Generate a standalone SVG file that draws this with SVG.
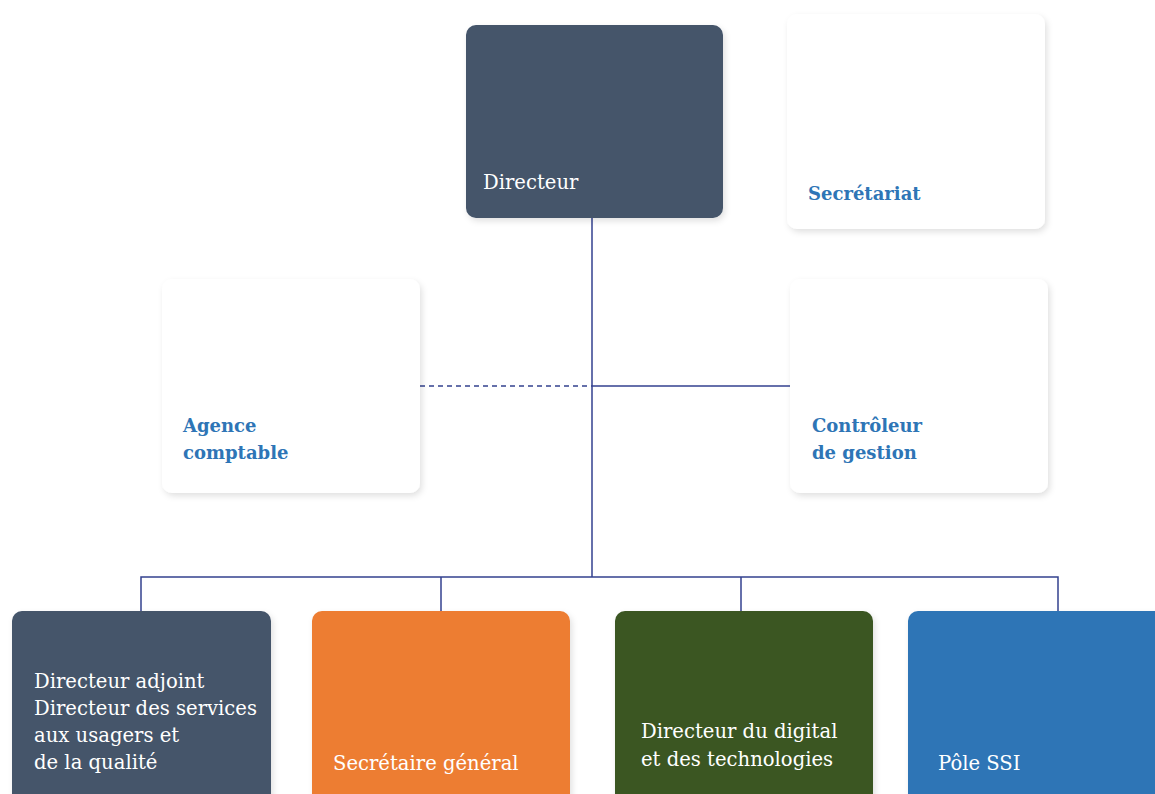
<svg xmlns="http://www.w3.org/2000/svg" width="1155" height="794" viewBox="0 0 1155 794">
<defs>
<filter id="sh" x="-10%" y="-10%" width="125%" height="125%">
<feDropShadow dx="2" dy="3" stdDeviation="3" flood-color="#000" flood-opacity="0.12"/>
</filter>
</defs>
<style>
text{font-family:"DejaVu Serif","Liberation Serif",serif;font-size:19.6px;}
.w{fill:#ffffff;}
.b{fill:#2E75B6;font-weight:bold;font-size:18px;}
.ln{stroke:#33418F;stroke-width:1.5;fill:none;}
.dash{stroke-dasharray:5 4;}
</style>
<rect width="1155" height="794" fill="#ffffff"/>
<g id="connectors">
<line class="ln" x1="592" y1="218" x2="592" y2="577"/>
<line class="ln" x1="592" y1="386" x2="790" y2="386"/>
<line class="ln dash" x1="420" y1="386" x2="592" y2="386"/>
<polyline class="ln" points="141,611 141,577 1058,577 1058,611"/>
<line class="ln" x1="441" y1="577" x2="441" y2="611"/>
<line class="ln" x1="741" y1="577" x2="741" y2="611"/>
</g>
<g id="directeur">
<rect x="466" y="25" width="257" height="193" rx="10" fill="#44546A" filter="url(#sh)"/>
<text class="w" x="483" y="189">Directeur</text>
</g>
<g id="secretariat">
<rect x="787" y="14" width="258" height="215" rx="10" fill="#ffffff" filter="url(#sh)"/>
<text class="b" x="808" y="200">Secrétariat</text>
</g>
<g id="agence">
<rect x="162" y="279" width="258" height="214" rx="10" fill="#ffffff" filter="url(#sh)"/>
<text class="b" x="183" y="432">Agence</text>
<text class="b" x="183" y="459">comptable</text>
</g>
<g id="controleur">
<rect x="790" y="279" width="258" height="214" rx="10" fill="#ffffff" filter="url(#sh)"/>
<text class="b" x="812" y="432">Contrôleur</text>
<text class="b" x="812" y="459">de gestion</text>
</g>
<g id="adjoint">
<rect x="12" y="611" width="259" height="200" rx="10" fill="#44546A" filter="url(#sh)"/>
<text class="w" x="34" y="688">Directeur adjoint</text>
<text class="w" x="34" y="715">Directeur des services</text>
<text class="w" x="34" y="742">aux usagers et</text>
<text class="w" x="34" y="769">de la qualité</text>
</g>
<g id="secretaire">
<rect x="312" y="611" width="258" height="200" rx="10" fill="#ED7D31" filter="url(#sh)"/>
<text class="w" x="333" y="770">Secrétaire général</text>
</g>
<g id="digital">
<rect x="615" y="611" width="258" height="200" rx="10" fill="#3B5724" filter="url(#sh)"/>
<text class="w" x="641" y="738">Directeur du digital</text>
<text class="w" x="641" y="766">et des technologies</text>
</g>
<g id="ssi">
<rect x="908" y="611" width="258" height="200" rx="10" fill="#2E75B6" filter="url(#sh)"/>
<text class="w" x="938" y="770">Pôle SSI</text>
</g>
</svg>
